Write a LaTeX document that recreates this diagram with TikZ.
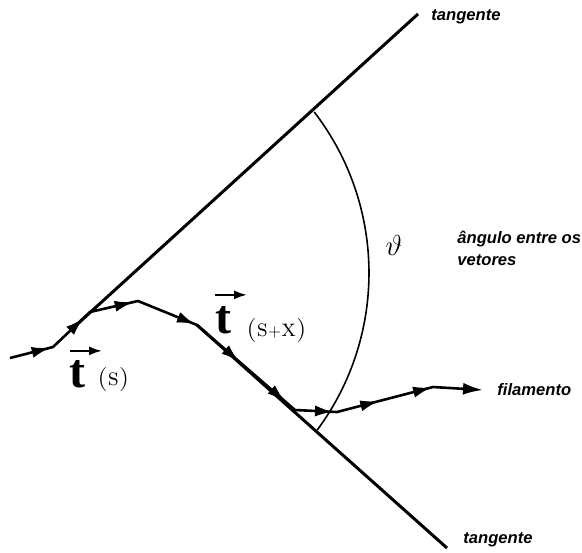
\documentclass[tikz,border=0pt]{standalone}
\usepackage{fontspec}
\newfontfamily\notefont{Liberation Sans}
\newfontfamily\tfont{Liberation Serif}
\usetikzlibrary{arrows.meta, positioning, decorations.markings}

\tikzset{
  note/.style={font=\notefont\bfseries\itshape\fontsize{8.3}{11}\selectfont, inner sep=0pt},
  tangline/.style={line width=1.5pt},
  filline/.style={line width=1.3pt, line join=round},
  tipat/.style={postaction={decorate, decoration={markings, mark=at position #1 with {\arrow{Latex[length=8.5pt,width=5.5pt]}}}}},
  tbold/.style={font=\tfont\bfseries\fontsize{24}{24}\selectfont, inner sep=0pt},
  targ/.style={font=\fontsize{12}{12}\selectfont\scshape, inner sep=0pt},
  vecarrow/.style={line width=1pt, -{Latex[length=6.5pt,width=4.5pt]}}
}

\begin{document}
\begin{tikzpicture}[x=0.5pt, y=-0.5pt]
    \useasboundingbox (0,0) rectangle (582,552);

    \coordinate (ua) at (72,329);
    \coordinate (ub) at (418,14);
    \coordinate (la) at (197,325);
    \coordinate (lb) at (447,548);
    \coordinate (ac) at (105,273);

    \coordinate (f0) at (10,358);
    \coordinate (f1) at (53,347);
    \coordinate (f2) at (90,312);
    \coordinate (f3) at (138,301);
    \coordinate (f5) at (295,410);
    \coordinate (f6) at (337,412);
    \coordinate (f7) at (433,387);
    \coordinate (f8) at (483,390);

    \draw[tangline] (ua) -- (ub);
    \draw[tangline] (la) -- (lb);
    \draw[line width=0.8pt] (ac) ++(-37.6:264) arc[start angle=-37.6, end angle=36.5, radius=264];

    \draw[filline, -{Latex[length=10pt,width=6pt]}] (f0) -- (f1) -- (f2) -- (f3) -- (la) -- (f5) -- (f6) -- (f7) -- (f8);
    \path[tipat=0.9] (f0) -- (f1);
    \path[tipat=0.8] (f1) -- (f2);
    \path[tipat=0.87] (f2) -- (f3);
    \path[tipat=0.95] (f3) -- (la);
    \path[tipat=0.42, tipat=0.89] (la) -- (f5);
    \path[tipat=0.88] (f5) -- (f6);
    \path[tipat=0.42, tipat=0.97] (f6) -- (f7);

    \node[note] (tgtop) at (466,17) {tangente};
    \node[note] (tgbot) at (498,540) {tangente};
    \node[note, right=7pt of f8] (fil) {filamento};
    \node[note, align=left, anchor=north west] (ang) at (457,231) {ângulo entre os\\vetores};
    \node (theta) at (394,245) {\fontsize{15}{15}\selectfont$\vartheta$};

    \node[tbold] (ts) at (77,374) {t};
    \node[targ, anchor=west] (sarg) at (97,379) {(s)};
    \draw[vecarrow] ([shift={(-3.5pt,4.5pt)}]ts.north) -- ++(16pt,0);

    \node[tbold] (tsx) at (223,320) {t};
    \node[targ, anchor=west] (sxarg) at (246,330) {(s{\footnotesize+}x)};
    \draw[vecarrow] ([shift={(-4pt,5.5pt)}]tsx.north) -- ++(16pt,0);
\end{tikzpicture}
\end{document}
